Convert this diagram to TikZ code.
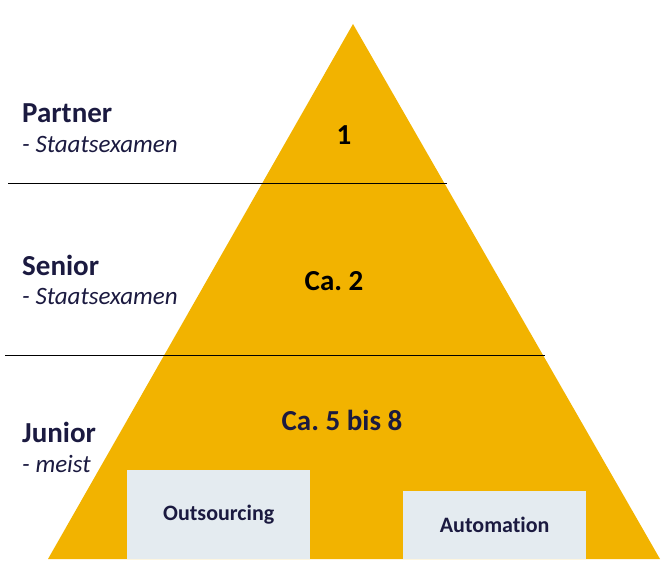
\documentclass[tikz,border=0pt]{standalone}
\usepackage{fontspec}
\setmainfont{Carlito}[Ligatures=CommonOff]
\usepackage{xcolor}
\usetikzlibrary{calc}
\definecolor{gold}{RGB}{242,179,0}
\definecolor{navy}{RGB}{27,26,64}
\definecolor{boxgrey}{RGB}{228,235,240}
\frenchspacing
\begin{document}
\begin{tikzpicture}[x=1pt,y=-1pt,
    level/.style={anchor=base west,inner sep=0,text=navy,font=\fontsize{29}{34}\selectfont\bfseries},
    note/.style={anchor=base west,inner sep=0,text=navy,font=\fontsize{25}{30}\selectfont\itshape},
    count/.style={anchor=base,inner sep=0,font=\fontsize{29}{34}\selectfont\bfseries},
    task/.style={fill=boxgrey,text=navy,minimum width=183pt,inner sep=0,
      font=\fontsize{22}{26}\selectfont\bfseries}]
  \useasboundingbox (0,0) rectangle (668,572);
  \coordinate (apex) at (353,24);
  \coordinate (bl) at (48,559);
  \coordinate (br) at (660,559);
  \fill[gold] (apex) -- (bl) -- (br) -- cycle;

  % dividing lines
  \coordinate (l1) at (8,183);
  \coordinate (l2) at (5,355);
  \coordinate (r1) at ($(apex)!0.305!(br)$);
  \coordinate (r2) at ($(apex)!0.625!(br)$);
  \draw[line width=0.9pt] (l1) -- (l1 -| r1);
  \draw[line width=0.9pt] (l2) -- (l2 -| r2);

  % levels
  \node[level] (partner) at (22,123) {Partner};
  \node[note] (partnernote) at (22,153) {- Staatsexamen};
  \node[level] (senior) at (22,275) {Senior};
  \node[note] (seniornote) at (22,304) {- Staatsexamen};
  \node[level] (junior) at (22,442) {Junior};
  \node[note] (juniornote) at (22,472) {- meist};

  % counts
  \node[count,text=black] (n1) at (344,145) {1};
  \node[count,text=black] (n2) at (334,290) {Ca. 2};
  \node[count,text=navy] (n3) at (342,430) {Ca. 5 bis 8};

  % tasks
  \node[task,anchor=south west,minimum height=89pt] (outsourcing) at (127,559) {Outsourcing};
  \node[task,anchor=south west,minimum height=68pt] (automation) at (403,559) {Automation};
\end{tikzpicture}
\end{document}
